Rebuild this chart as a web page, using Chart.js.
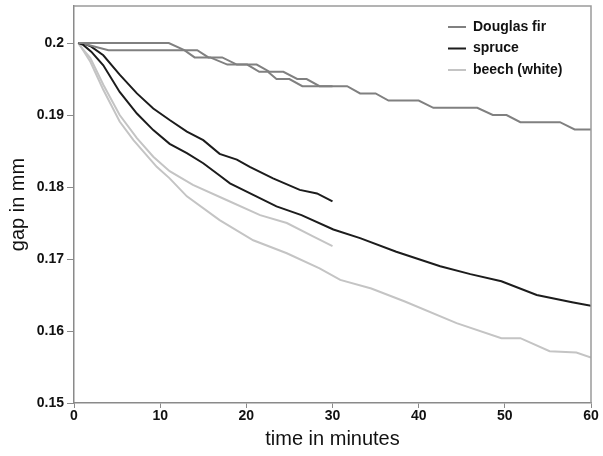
<!DOCTYPE html>
<html lang="en">
<head>
  <meta charset="UTF-8">
  <title>gap in mm over time</title>
  <script src="https://cdn.jsdelivr.net/npm/chart.js"></script>
  <style>
    body { margin: 0; background: #fff; }
    #wrap { width: 603px; height: 456px; }
  </style>
</head>
<body>
<div id="wrap"><canvas id="chart" width="603" height="456"></canvas></div>
<script>
// time (minutes) and gap (mm) per run
const dfLongT   = [0.5, 11, 12.8, 14, 15.8, 17.8, 21.2, 22.7, 24.3, 25.9, 27, 28.5, 31.7, 33.2, 35, 36.5, 40, 41.7, 46.8, 48.6, 50.2, 51.8, 56.4, 58.1, 60];
const dfLongGap = [0.2, 0.2, 0.199, 0.198, 0.198, 0.197, 0.197, 0.196, 0.196, 0.195, 0.195, 0.194, 0.194, 0.193, 0.193, 0.192, 0.192, 0.191, 0.191, 0.190, 0.190, 0.189, 0.189, 0.188, 0.188];

const dfShortT   = [0.5, 0.8, 4, 14.3, 15.6, 17.2, 18.9, 20.1, 21.5, 22.5, 23.5, 25, 26.5, 28, 30];
const dfShortGap = [0.2, 0.2, 0.199, 0.199, 0.198, 0.198, 0.197, 0.197, 0.196, 0.196, 0.195, 0.195, 0.194, 0.194, 0.194];

const spruceLongT   = [0.5, 1, 2, 3.4, 5.3, 7.3, 9.2, 11.1, 13.1, 15.0, 16.9, 18.1, 20.8, 23.5, 26.4, 30.1, 33.2, 37.4, 42.5, 46.0, 49.6, 53.7, 57.8, 60];
const spruceLongGap = [0.2, 0.1998, 0.1988, 0.1969, 0.1932, 0.1902, 0.1879, 0.186, 0.1847, 0.1833, 0.1816, 0.1805, 0.1789, 0.1773, 0.1761, 0.1741, 0.1729, 0.171, 0.169, 0.1679, 0.1669, 0.165, 0.164, 0.1635];

const spruceShortT   = [0.5, 1, 2, 3.4, 5.3, 7.3, 9.2, 11.1, 13.1, 15.0, 16.9, 18.9, 20.4, 23.1, 26.2, 28.2, 30];
const spruceShortGap = [0.2, 0.2, 0.1995, 0.1983, 0.1956, 0.193, 0.1909, 0.1893, 0.1877, 0.1865, 0.1846, 0.1838, 0.1828, 0.1812, 0.1796, 0.1791, 0.178];

const beechLongT   = [0.5, 1, 1.9, 3.4, 5.3, 6.9, 9.6, 11.1, 13.1, 16.9, 20.8, 24.7, 28.5, 30.9, 34.5, 38.4, 44.4, 49.6, 51.8, 55.2, 58.3, 60];
const beechLongGap = [0.2, 0.1991, 0.1974, 0.1935, 0.1891, 0.1865, 0.1828, 0.1812, 0.1787, 0.1754, 0.1726, 0.1708, 0.1687, 0.1671, 0.1659, 0.1641, 0.1611, 0.159, 0.159, 0.1572, 0.157, 0.1563];

const beechShortT   = [0.5, 1, 1.9, 3.4, 5.3, 7.3, 9.2, 11.1, 13.8, 17.7, 21.6, 24.7, 27.8, 30];
const beechShortGap = [0.2, 0.1992, 0.1979, 0.1942, 0.19, 0.1868, 0.1842, 0.1822, 0.1803, 0.1782, 0.1761, 0.175, 0.1731, 0.1718];

const xTicks = [0, 10, 20, 30, 40, 50, 60];
const yTicks = [0.15, 0.16, 0.17, 0.18, 0.19, 0.2];

const DF = "#808080", SPRUCE = "#1c1c1c", BEECH = "#c4c4c4";

function pts(t, g) { return t.map((v, i) => ({ x: v, y: g[i] })); }
function line(label, t, g, color) {
  return { label: label, data: pts(t, g), borderColor: color, backgroundColor: color,
           borderWidth: 2, pointRadius: 0, tension: 0, fill: false };
}

// top/right box edges
const frame = {
  id: "frame",
  afterDraw(chart) {
    const a = chart.chartArea, ctx = chart.ctx;
    ctx.save();
    ctx.strokeStyle = "#9a9a9a";
    ctx.lineWidth = 1.5;
    ctx.beginPath();
    ctx.moveTo(a.left, a.top);
    ctx.lineTo(a.right, a.top);
    ctx.lineTo(a.right, a.bottom);
    ctx.stroke();
    ctx.restore();
  }
};

// put the legend in the top right corner of the plot
const legendMove = {
  id: "legendMove",
  afterLayout(chart) {
    const l = chart.legend;
    const dx = 440.5 - l.left;
    l.left += dx; l.right += dx;
    const dy = 12.5 - l.top;
    l.top += dy; l.bottom += dy;
  }
};

const font = "'Liberation Sans', Arial, sans-serif";

new Chart(document.getElementById("chart"), {
  type: "line",
  data: {
    datasets: [
      line("Douglas fir", dfLongT, dfLongGap, DF),
      line("spruce", spruceLongT, spruceLongGap, SPRUCE),
      line("beech (white)", beechLongT, beechLongGap, BEECH),
      line("Douglas fir 2", dfShortT, dfShortGap, DF),
      line("spruce 2", spruceShortT, spruceShortGap, SPRUCE),
      line("beech 2", beechShortT, beechShortGap, BEECH)
    ]
  },
  options: {
    responsive: false,
    animation: false,
    layout: { padding: { left: 0, right: 12, top: 6, bottom: 0 } },
    plugins: {
      tooltip: { enabled: false },
      legend: {
        position: "chartArea",
        align: "start",
        labels: {
          filter: (item) => item.datasetIndex < 3,
          boxWidth: 18,
          boxHeight: 2,
          padding: 7.5,
          color: "#111",
          font: { family: font, size: 14, weight: "bold" },
          generateLabels(chart) {
            return chart.data.datasets.map((d, i) => ({
              text: d.label, fillStyle: d.borderColor, strokeStyle: d.borderColor,
              lineWidth: 0, datasetIndex: i, hidden: false, fontColor: "#111"
            }));
          }
        }
      }
    },
    scales: {
      x: {
        type: "linear",
        min: 0, max: 60,
        afterFit(s) { s.height = 53; },
        afterBuildTicks(s) { s.ticks = xTicks.map(v => ({ value: v })); },
        grid: { drawOnChartArea: false, drawTicks: true, tickLength: 5, color: "#8a8a8a" },
        border: { color: "#8a8a8a", width: 1.5 },
        ticks: { padding: 0, color: "#111", maxRotation: 0,
                 font: { family: font, size: 14, weight: "bold" } },
        title: { display: true, text: "time in minutes", color: "#111",
                 padding: { top: 5, bottom: 5 }, font: { family: font, size: 20 } }
      },
      y: {
        type: "linear",
        min: 0.15, max: 0.20514,
        afterFit(s) { s.width = 74; s.paddingTop = 0; s.paddingBottom = 0; },
        afterBuildTicks(s) { s.ticks = yTicks.map(v => ({ value: v })); },
        grid: { drawOnChartArea: false, drawTicks: true, tickLength: 7, color: "#8a8a8a" },
        border: { color: "#8a8a8a", width: 1.5 },
        ticks: { padding: 3, color: "#111",
                 callback: (v) => String(Math.round(v * 100) / 100),
                 font: { family: font, size: 14, weight: "bold" } },
        title: { display: true, text: "gap in mm", color: "#111",
                 padding: { top: 6, bottom: 6 }, font: { family: font, size: 20 } }
      }
    }
  },
  plugins: [frame, legendMove]
});
</script>
</body>
</html>
